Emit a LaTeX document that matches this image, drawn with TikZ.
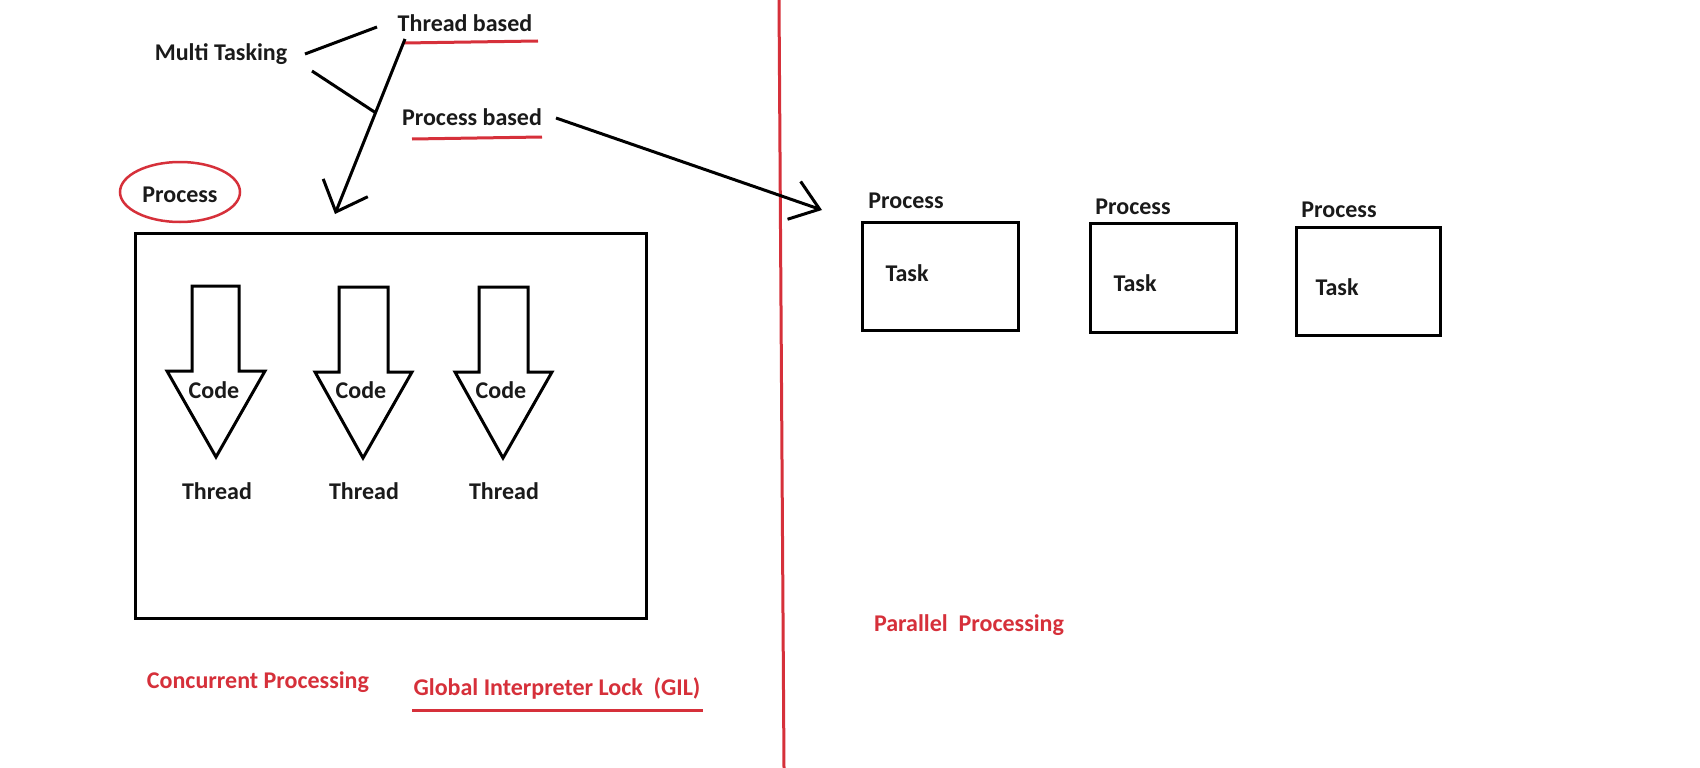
\documentclass[tikz,border=0pt]{standalone}
\usepackage{fontspec}
\setmainfont{Carlito}
\usetikzlibrary{arrows.meta}
\definecolor{inkred}{RGB}{214,48,58}
\definecolor{ink}{RGB}{26,26,26}
\begin{document}
\begin{tikzpicture}[x=1pt,y=-1pt,
  lbl/.style={font=\bfseries\fontsize{24}{26}\selectfont, text=ink, inner sep=0pt, anchor=base},
  rlbl/.style={font=\bfseries\fontsize{24}{26}\selectfont, text=inkred, inner sep=0pt, anchor=base},
  stroke/.style={line width=3pt, draw=black},
  redline/.style={line width=3pt, draw=inkred},
  blockarrow/.style={line width=3pt, draw=black, line join=miter},
  box/.style={line width=3pt, draw=black},
  barbA/.style={-{Straight Barb[length=26pt,width=48pt,line width=3pt]}},
  barbB/.style={-{Straight Barb[length=27pt,width=40pt,line width=3pt]}},
  ]
\useasboundingbox[fill=white] (0,0) rectangle (1700,768);

% top labels
\node[lbl] (mt) at (221,60) {Multi Tasking};
\node[lbl] (tb) at (465,32) {Thread based};
\node[lbl] (pb) at (472,125) {Process based};

% underlines
\coordinate (tbu1) at (404,43);
\coordinate (tbu2) at (538,41);
\draw[redline] (tbu1) -- (tbu2);
\coordinate (pbu1) at (412,139);
\coordinate (pbu2) at (542,137);
\draw[redline] (pbu1) -- (pbu2);

% branches of Multi Tasking
\coordinate (b1s) at (305,54);
\coordinate (b1e) at (377,27);
\coordinate (b2s) at (312,71);
\coordinate (b2e) at (376,113);
\draw[stroke] (b1s) -- (b1e);
\draw[stroke] (b2s) -- (b2e);

% process ellipse
\draw[redline, line width=2.5pt] (180,192) ellipse [x radius=60, y radius=30];
\node[lbl] (proc) at (180,202) {Process};

% main process box
\draw[box] (135,233) rectangle (646,618);
\coordinate (boxtop) at (335,214);

% arrow from Thread based into the box
\coordinate (tbs) at (405,39);
\draw[stroke, barbA] (tbs) -- (boxtop);

% block arrows
\draw[blockarrow] (192,286) -- (239,286) -- (239,371) -- (265,371) -- (216,457) -- (167,371) -- (192,371) -- cycle;
\draw[blockarrow] (339,287) -- (388,287) -- (388,372) -- (412,372) -- (363,458) -- (315,372) -- (339,372) -- cycle;
\draw[blockarrow] (479,287) -- (528,287) -- (528,372) -- (552,372) -- (503,458) -- (455,372) -- (479,372) -- cycle;
\node[lbl] (c1) at (214,398) {Code};
\node[lbl] (c2) at (361,398) {Code};
\node[lbl] (c3) at (501,398) {Code};
\node[lbl] (t1) at (217,499) {Thread};
\node[lbl] (t2) at (364,499) {Thread};
\node[lbl] (t3) at (504,499) {Thread};

% bottom labels
\node[rlbl] (cp) at (258,688) {Concurrent Processing};
\node[rlbl] (gil) at (557,695) {Global Interpreter Lock\ \ (GIL)};
\coordinate (gu1) at (412,710);
\coordinate (gu2) at (703,710);
\draw[redline] (gu1) -- (gu2);

% divider
\coordinate (d1) at (779,0);
\coordinate (d2) at (784,768);
\draw[redline] (d1) -- (d2);

% arrow to parallel side
\coordinate (pbs) at (556,118);
\coordinate (pbe) at (822,210);
\draw[stroke, barbB] (pbs) -- (pbe);

% right side processes
\draw[box] (862,222) rectangle (1018,330);
\draw[box] (1090,223) rectangle (1236,332);
\draw[box] (1296,227) rectangle (1440,335);
\node[lbl] (p1) at (906,208) {Process};
\node[lbl] (p2) at (1133,214) {Process};
\node[lbl] (p3) at (1339,217) {Process};
\node[lbl] (k1) at (907,281) {Task};
\node[lbl] (k2) at (1135,291) {Task};
\node[lbl] (k3) at (1337,295) {Task};

\node[rlbl] (pp) at (969,631) {Parallel\ \ Processing};
\end{tikzpicture}
\end{document}
